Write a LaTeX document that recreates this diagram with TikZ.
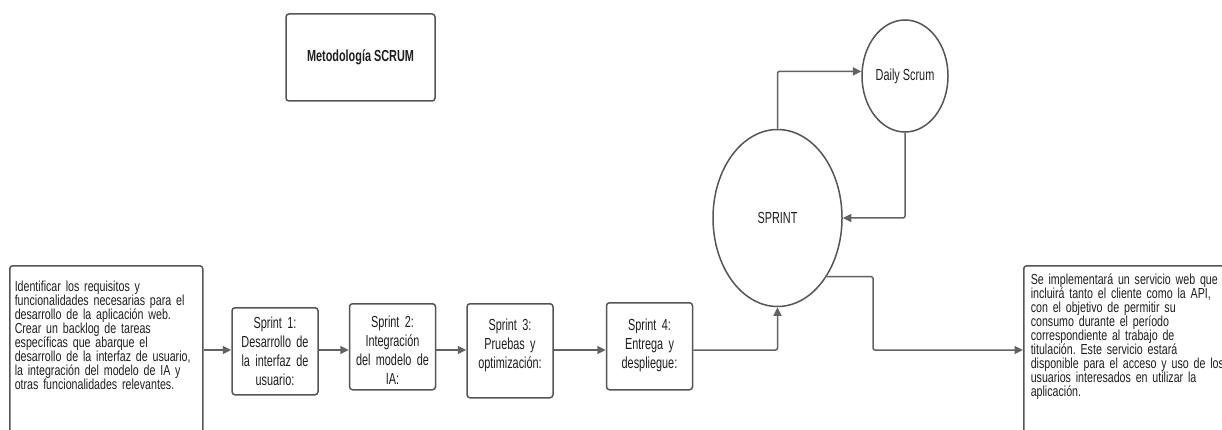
\documentclass[tikz,border=0pt]{standalone}
\usepackage{fontspec}
\setmainfont{Liberation Sans}[FakeStretch=0.735]
\newfontfamily\tallfamily{Liberation Sans}[FakeStretch=0.68]
\definecolor{ScrumGray}{HTML}{555555}
\definecolor{ScrumLine}{HTML}{626262}
\definecolor{ScrumInk}{HTML}{1E1E1E}
\usetikzlibrary{arrows.meta, shapes.geometric}
\newcommand{\notefont}{\frenchspacing\fontsize{14.5}{14}\selectfont}
\newcommand{\sprintfont}{\tallfamily\fontsize{16}{18.8}\selectfont}

\begin{document}
\begin{tikzpicture}[x=1pt, y=-1pt, >={Triangle[length=8.5pt, width=8pt]},
  box/.style={draw=ScrumGray, line width=1.5pt, rounded corners=3pt, text=ScrumInk},
  notebox/.style={box, anchor=north west, align=left, inner xsep=5pt,
        inner ysep=0pt, font=\notefont},
  sprintbox/.style={box, anchor=north, text width=80pt, align=center,
        inner xsep=3pt, inner ysep=0pt, font=\sprintfont},
  bubble/.style={draw=ScrumGray, line width=1.5pt, ellipse, inner sep=0pt,
        text=ScrumInk, font=\sprintfont},
  link/.style={->, draw=ScrumLine, line width=1.5pt, rounded corners=2pt}]
  \useasboundingbox (0,0) rectangle (1222,430);

  \node[box, minimum width=149pt, minimum height=87pt,
        font=\tallfamily\bfseries\fontsize{16}{18}\selectfont] (title) at (360.5,57.5)
    {Metodología SCRUM};

  \node[notebox, text width=183pt, text height=26pt, text depth=170pt] (backlog) at (9,265)
    {Identificar los requisitos y\\ funcionalidades necesarias para el\\
     desarrollo de la aplicación web.\\ Crear un backlog de tareas\\
     específicas que abarque el\\ desarrollo de la interfaz de usuario,\\
     la integración del modelo de IA y\\ otras funcionalidades relevantes.};

  \node[sprintbox, text height=21pt, text depth=66pt] (s1) at (275,307)
    {Sprint 1:\\ Desarrollo de\\ la interfaz de\\ usuario:};
  \node[sprintbox, text height=24pt, text depth=62pt] (s2) at (392.5,303)
    {Sprint 2:\\ Integración\\ del modelo de\\ IA:};
  \node[sprintbox, text height=27pt, text depth=67pt] (s3) at (510,303)
    {Sprint 3:\\ Pruebas y\\ optimización:};
  \node[sprintbox, text height=28pt, text depth=59pt] (s4) at (649.5,302)
    {Sprint 4:\\ Entrega y\\ despliegue:};

  \node[bubble, minimum width=129pt, minimum height=177pt] (sprint) at (777.5,218)
    {SPRINT};
  \node[bubble, minimum width=86pt, minimum height=112pt] (daily) at (905,76)
    {Daily Scrum};

  \node[notebox, text width=200pt, text height=19pt, text depth=180pt,
        inner xsep=7pt] (servicio) at (1023,265)
    {Se implementará un servicio web que\\ incluirá tanto el cliente como la API,\\
     con el objetivo de permitir su\\ consumo durante el período\\
     correspondiente al trabajo de\\ titulación. Este servicio estará\\
     disponible para el acceso y uso de los\\ usuarios interesados en utilizar la\\
     aplicación.};

  % flow of the sprints
  \coordinate (row) at (0,350);
  \coordinate (drop) at (873,350);
  \draw[link] (backlog.east |- row) -- (s1.west |- row);
  \draw[link] (s1.east |- row) -- (s2.west |- row);
  \draw[link] (s2.east |- row) -- (s3.west |- row);
  \draw[link] (s3.east |- row) -- (s4.west |- row);
  \draw[link] (s4.east |- row) -| (sprint.south);
  \draw[link] (sprint.north) |- (daily.174);
  \draw[link] (daily.south) |- (sprint.east);
  \draw[link] (sprint.-50) -| (drop) -- (servicio.west |- row);
\end{tikzpicture}
\end{document}
